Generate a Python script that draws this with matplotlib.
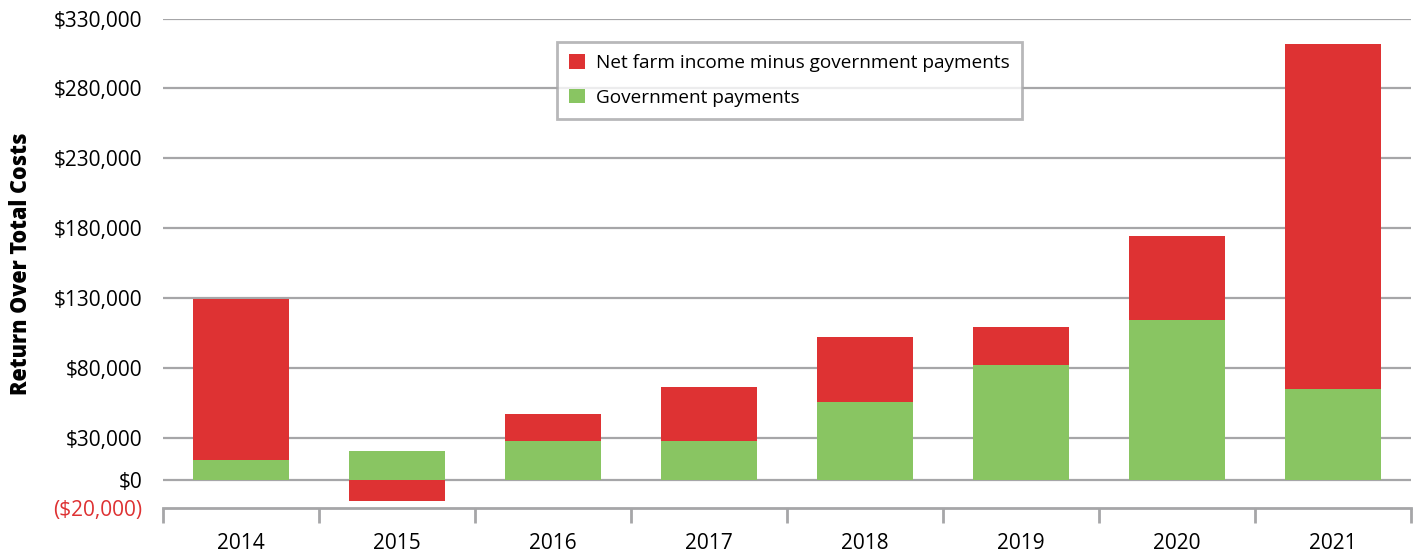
import matplotlib.pyplot as plt
import numpy as np

years = ['2014', '2015', '2016', '2017', '2018', '2019', '2020', '2021']
gov_payments = [14400, 20800, 28000, 28200, 56000, 82600, 114500, 65100]
net_minus_gov = [114900, -14900, 19400, 38600, 46000, 26600, 60300, 246700]
y_ticks = [-20000, 0, 30000, 80000, 130000, 180000, 230000, 280000, 330000]

red = '#de3233'
green = '#89c562'
grid_gray = '#a6a6a8'

plt.rcParams['font.family'] = ['Open Sans', 'DejaVu Sans']

fig = plt.figure(figsize=(14.21, 5.54), dpi=100)
ax = fig.add_axes([0.1147, 0.083, 0.8783, 0.8836])

x = np.arange(len(years))
gov = np.array(gov_payments)
net = np.array(net_minus_gov)
bottoms = np.where(net >= 0, gov, 0)

ax.bar(x, net, bottom=bottoms, width=0.62, color=red, zorder=3,
       label='Net farm income minus government payments')
ax.bar(x, gov, width=0.62, color=green, zorder=3, label='Government payments')

ax.set_xlim(-0.5, len(years) - 0.5)
ax.set_ylim(-20000, 330000)

ax.set_yticks(y_ticks)
labels = []
for v in y_ticks:
    if v < 0:
        labels.append('(${:,})'.format(-v))
    else:
        labels.append('${:,}'.format(v))
ax.set_yticklabels(labels, fontsize=15)
ax.get_yticklabels()[0].set_color(red)
ax.tick_params(axis='y', length=0, pad=15)

ax.set_xticks(x)
ax.set_xticklabels(years, fontsize=15)
ax.tick_params(axis='x', which='major', length=0, pad=18)
ax.set_xticks(np.arange(len(years) + 1) - 0.5, minor=True)
ax.tick_params(axis='x', which='minor', length=11, width=2, color=grid_gray, direction='out')

for s in ['top', 'right', 'left']:
    ax.spines[s].set_visible(False)
ax.spines['bottom'].set_color(grid_gray)
ax.spines['bottom'].set_linewidth(2)

for v in y_ticks[1:]:
    ax.axhline(v, color=grid_gray, lw=1.6, zorder=1)

ax.set_ylabel('Return Over Total Costs', fontsize=15.5, fontweight='heavy')
ax.yaxis.set_label_coords(-0.104, 0.5)

leg = ax.legend(loc='upper left', bbox_to_anchor=(0.3157, 0.952), fontsize=13.7,
                frameon=True, fancybox=False, edgecolor=grid_gray, handlelength=0.8,
                handleheight=0.8, handletextpad=0.6, borderpad=0.65, labelspacing=0.85,
                borderaxespad=0)
leg.get_frame().set_linewidth(2)
leg.set_zorder(5)

fig.savefig('out.png', dpi=100)
